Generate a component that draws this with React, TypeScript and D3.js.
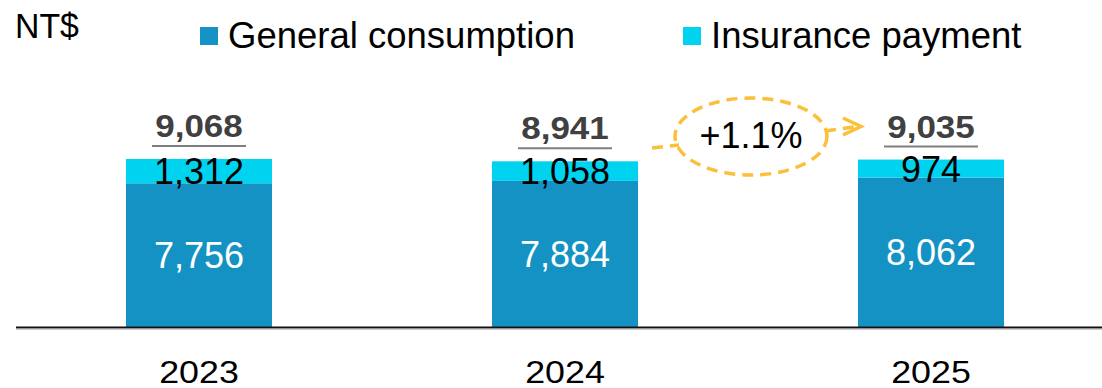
import React from "react";
import * as d3 from "d3";

// Average spend per person (NT$), split by type
const years = ["2023", "2024", "2025"];
const generalConsumption = [7756, 7884, 8062];
const insurancePayment = [1312, 1058, 974];
const totals = [9068, 8941, 9035];
const growthLabel = "+1.1%";
const legendItems = ["General consumption", "Insurance payment"];

const W = 1102;
const H = 388;
const BASE = 327;
const FONT = "'Liberation Sans', Arial, Helvetica, sans-serif";
const C_GENERAL = "#1592C4";
const C_INSURANCE = "#00D3EF";
const C_GOLD = "#FCBF3A";

const fmt = d3.format(",");

export default function App() {
  const x = d3
    .scaleBand<string>()
    .domain(years)
    .range([16, 1114])
    .paddingInner(0.601)
    .paddingOuter(0.3005);
  const y = d3.scaleLinear().domain([0, 10000]).range([BASE, BASE - 185.3]);

  const stacked = years.map((yr, i) => {
    const g = generalConsumption[i];
    const ins = insurancePayment[i];
    return { yr, i, g, ins, total: totals[i], x0: x(yr)!, cx: x(yr)! + x.bandwidth() / 2 };
  });

  // growth annotation between the last two bars
  const c1 = stacked[1].cx;
  const c2 = stacked[2].cx;
  const ex = (c1 + c2) / 2 + 3;
  const ey = 136.5;
  const rx = 76;
  const ry = 38.5;
  const dash = "11 7";

  return (
    <svg
      width={W}
      height={H}
      style={{ position: "absolute", left: 0, top: 0, display: "block", background: "#fff" }}
      fontFamily={FONT}
    >
      {/* unit */}
      <text x={15} y={38} fontSize={36} fill="#000" transform="translate(15,0) scale(0.94,1) translate(-15,0)">
        NT$
      </text>

      {/* legend */}
      <rect x={200} y={27} width={18} height={18} fill={C_GENERAL} />
      <text x={228} y={48} fontSize={36.5} fill="#000">
        {legendItems[0]}
      </text>
      <rect x={683} y={27} width={18} height={18} fill={C_INSURANCE} />
      <text x={711} y={48} fontSize={36.5} fill="#000">
        {legendItems[1]}
      </text>

      {/* bars */}
      {stacked.map((d) => {
        const yG = y(d.g);
        const yT = y(d.g + d.ins);
        const bw = x.bandwidth();
        const midG = (BASE + yG) / 2;
        const midI = (yG + yT) / 2;
        return (
          <g key={d.yr}>
            <rect x={d.x0} y={yG} width={bw} height={BASE - yG} fill={C_GENERAL} />
            <rect x={d.x0} y={yT} width={bw} height={yG - yT} fill={C_INSURANCE} />
            <text x={d.cx} y={midG + 13} fontSize={36} fill="#fff" textAnchor="middle">
              {fmt(d.g)}
            </text>
            <text x={d.cx} y={midI + 13} fontSize={36} fill="#000" textAnchor="middle">
              {fmt(d.ins)}
            </text>
            <text
              x={d.cx}
              y={yT - 22}
              fontSize={31}
              fontWeight="bold"
              fill="#404040"
              textAnchor="middle"
              transform={`translate(${d.cx},0) scale(1.13,1) translate(${-d.cx},0)`}
            >
              {fmt(d.total)}
            </text>
            <line x1={d.cx - 47} x2={d.cx + 47} y1={yT - 13} y2={yT - 13} stroke="#7F7F7F" strokeWidth={2} />
            <text
              x={d.cx}
              y={383}
              fontSize={32}
              fill="#000"
              textAnchor="middle"
              transform={`translate(${d.cx},0) scale(1.12,1) translate(${-d.cx},0)`}
            >
              {d.yr}
            </text>
          </g>
        );
      })}

      {/* baseline */}
      <line x1={16} x2={W} y1={BASE + 0.5} y2={BASE + 0.5} stroke="#111" strokeWidth={2} />
      <line x1={16} x2={W} y1={BASE + 2} y2={BASE + 2} stroke="#9A9A9A" strokeWidth={1} />

      {/* growth callout */}
      <g fill="none" stroke={C_GOLD} strokeWidth={3.5} strokeDasharray={dash}>
        <ellipse cx={ex} cy={ey} rx={rx} ry={ry} />
        <path d={`M${ex - 99},148 L${ex - 72},145`} />
        <path d={`M${ex + 74},131 L${ex + 107},126.5`} />
      </g>
      <path
        d={`M${ex + 92},118 L${ex + 110},126.5 L${ex + 92},135`}
        fill="none"
        stroke={C_GOLD}
        strokeWidth={3.5}
        strokeLinejoin="miter"
      />
      <text x={ex} y={148} fontSize={36} fill="#000" textAnchor="middle">
        {growthLabel}
      </text>
    </svg>
  );
}
